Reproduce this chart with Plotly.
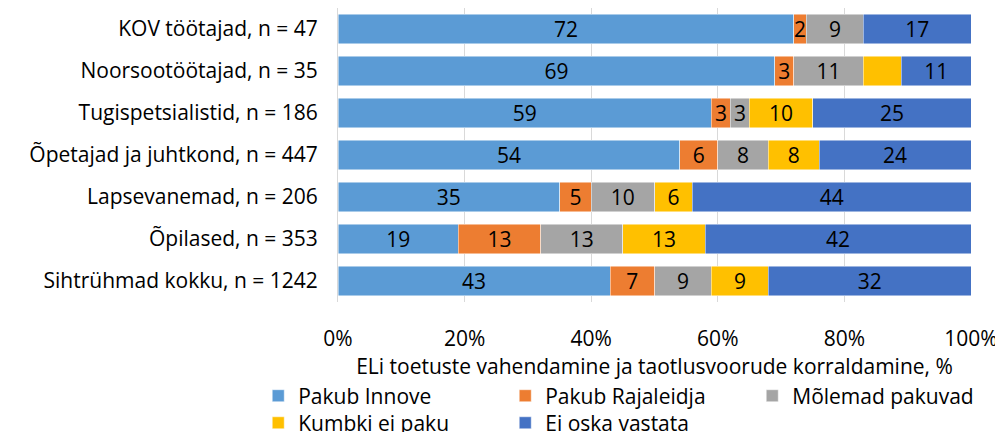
import plotly.graph_objects as go

categories = [
    "KOV töötajad, n = 47",
    "Noorsootöötajad, n = 35",
    "Tugispetsialistid, n = 186",
    "Õpetajad ja juhtkond, n = 447",
    "Lapsevanemad, n = 206",
    "Õpilased, n = 353",
    "Sihtrühmad kokku, n = 1242",
]
pakub_innove = [72, 69, 59, 54, 35, 19, 43]
pakub_rajaleidja = [2, 3, 3, 6, 5, 13, 7]
molemad_pakuvad = [9, 11, 3, 8, 10, 13, 9]
kumbki_ei_paku = [0, 6, 10, 8, 6, 13, 9]
ei_oska_vastata = [17, 11, 25, 24, 44, 42, 32]
# labels shown in the reference (the 6 for Noorsootöötajad is not labelled)
kumbki_labels = ["", "", "10", "8", "6", "13", "9"]

series = [
    ("Pakub Innove", pakub_innove, "#5B9BD5", None, "legend"),
    ("Pakub Rajaleidja", pakub_rajaleidja, "#ED7D31", None, "legend"),
    ("Mõlemad pakuvad", molemad_pakuvad, "#A5A5A5", None, "legend"),
    ("Kumbki ei paku", kumbki_ei_paku, "#FFC000", kumbki_labels, "legend2"),
    ("Ei oska vastata", ei_oska_vastata, "#4472C4", None, "legend2"),
]

FONT = "'Open Sans', 'Noto Sans', sans-serif"
FS = 21

fig = go.Figure()
for name, vals, color, labels, leg in series:
    txt = labels if labels is not None else [str(v) if v else "" for v in vals]
    fig.add_trace(go.Bar(
        y=categories, x=vals, name=name, orientation="h", legend=leg,
        marker=dict(color=color, line=dict(color="rgba(255,255,255,0.6)", width=0.8)),
        text=txt, texttemplate="%{text}", textposition="inside", textangle=0,
        insidetextanchor="middle", constraintext="none",
        textfont=dict(family=FONT, size=FS, color="#000000"),
        hoverinfo="x+name",
    ))

legend_common = dict(
    orientation="h", xanchor="left", yanchor="middle",
    xref="paper", yref="paper",
    entrywidth=202, entrywidthmode="pixels",
    font=dict(family=FONT, size=FS, color="#000000"),
    traceorder="normal", tracegroupgap=0, itemwidth=30,
    bgcolor="rgba(0,0,0,0)",
)

fig.update_layout(
    barmode="stack",
    bargap=0.286,
    width=995, height=424,
    margin=dict(l=330, r=32, t=0, b=130, autoexpand=False),
    paper_bgcolor="white", plot_bgcolor="white",
    font=dict(family=FONT, size=FS, color="#000000"),
    xaxis=dict(
        range=[0, 100], dtick=20, ticksuffix="%",
        showgrid=True, gridcolor="#D9D9D9", gridwidth=1,
        zeroline=False, showline=False,
        tickfont=dict(family=FONT, size=FS, color="#000000"),
        ticks="", ticklen=0, ticklabelstandoff=22,
        title=dict(text="ELi toetuste vahendamine ja taotlusvoorude korraldamine, %",
                   font=dict(family=FONT, size=FS, color="#000000"), standoff=0),
    ),
    yaxis=dict(
        autorange="reversed",
        showgrid=False, showline=True, linecolor="#D9D9D9", linewidth=1,
        ticks="", ticklabelstandoff=15,
        tickfont=dict(family=FONT, size=FS, color="#000000"),
    ),
    legend=dict(x=-0.126, y=-0.320, **legend_common),
    legend2=dict(x=-0.126, y=-0.412, **legend_common),
)

fig.write_html("out.html")
